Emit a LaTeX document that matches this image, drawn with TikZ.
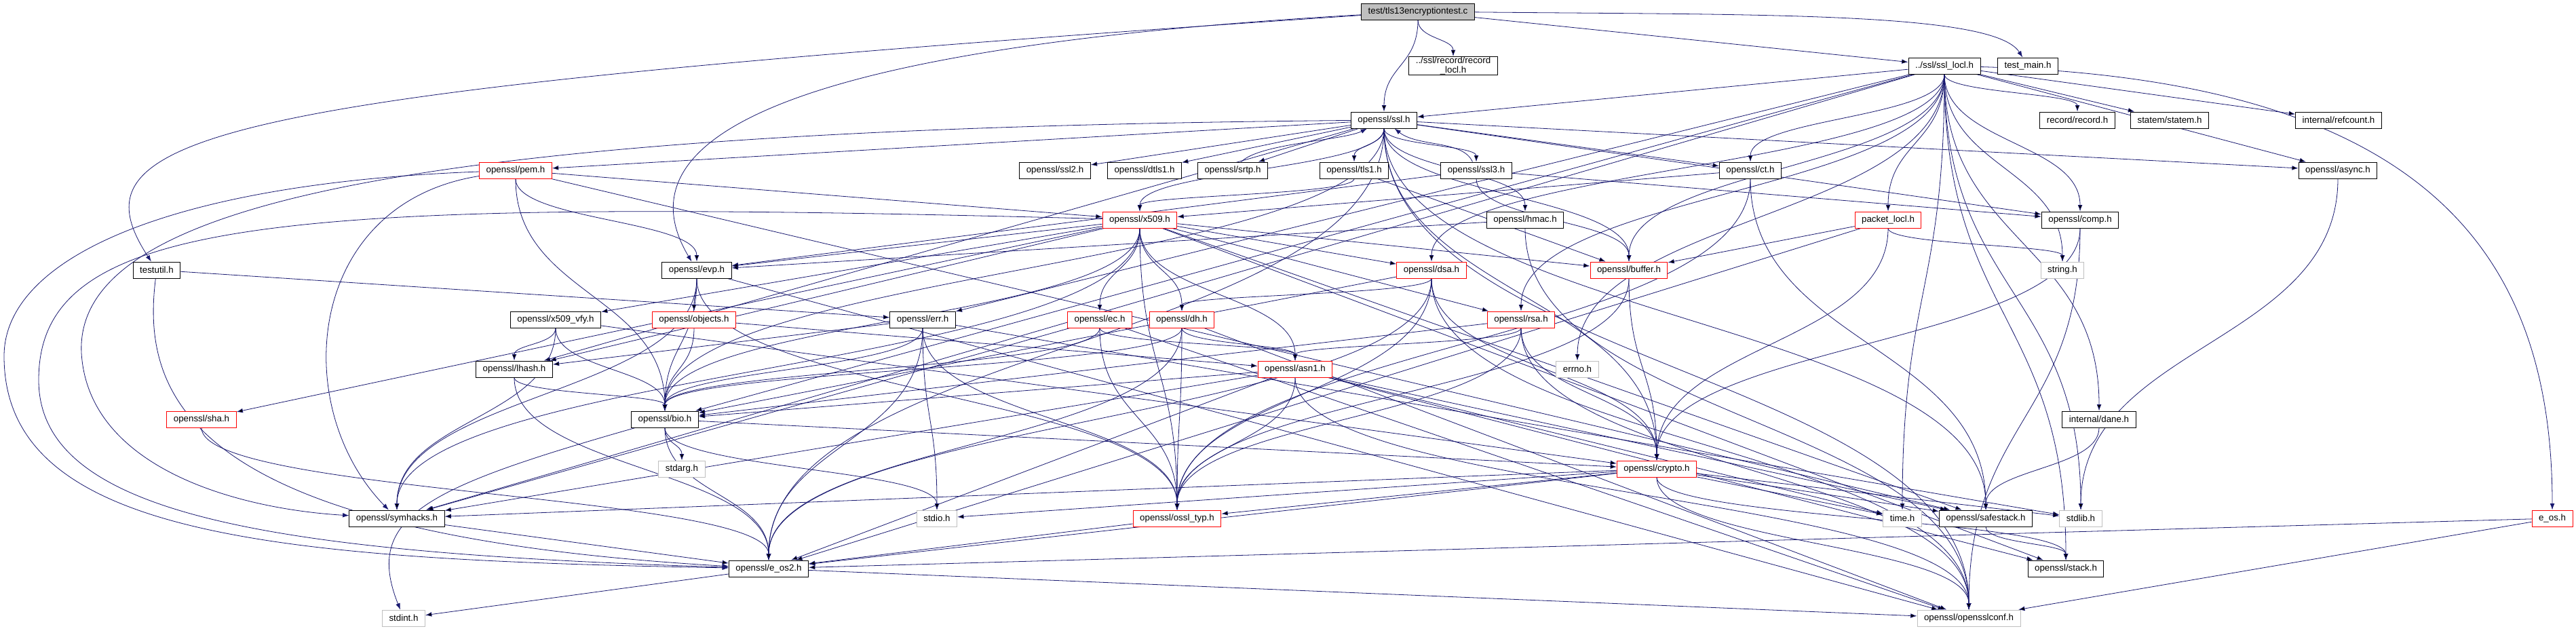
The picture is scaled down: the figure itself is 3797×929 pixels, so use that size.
\documentclass[tikz,border=0pt]{standalone}
\usepackage{fontspec}
\setmainfont{Liberation Sans}
\usetikzlibrary{arrows.meta, backgrounds, calc}

\definecolor{edgeblue}{HTML}{191970}
\definecolor{sysgray}{HTML}{BFBFBF}

\begin{document}
\begin{tikzpicture}[x=0.75pt, y=0.75pt,
  header/.style={rectangle, draw=black, fill=white, line width=0.75pt, minimum height=18pt, inner xsep=7.5pt, inner ysep=0pt, align=center, font=\fontsize{10}{11}\selectfont},
  partial/.style={header, draw=red},
  syshdr/.style={header, draw=sysgray},
  mainfile/.style={header, fill=sysgray},
  line/.style={draw=edgeblue, -{Latex[length=7pt,width=5pt]}, line width=0.6pt,
    to path={.. controls ($(\tikztostart)!0.5!(\tikztostart |- \tikztotarget)$)
      and ($(\tikztotarget)!0.5!(\tikztotarget |- \tikztostart)$) .. (\tikztotarget) \tikztonodes}},
  flat/.style={to path={-- (\tikztotarget) \tikztonodes}}]

  \useasboundingbox (0,0) rectangle (3797,-929);

  % top rows
  \node [mainfile] (test) at (2090,-17) {test/tls13encryptiontest.c};
  \node [header] (recloc) at (2142,-97) {../ssl/record/record\\\_locl.h};
  \node [header] (ssllocl) at (2866,-97) {../ssl/ssl\_locl.h};
  \node [header] (testmain) at (2989,-97) {test\_main.h};
  \node [header] (ssl) at (2040,-177) {openssl/ssl.h};
  \node [header] (record) at (3062,-177) {record/record.h};
  \node [header] (statem) at (3198,-177) {statem/statem.h};
  \node [header] (refcount) at (3447,-177) {internal/refcount.h};

  \node [partial] (pem) at (760,-251) {openssl/pem.h};
  \node [header] (ssl2) at (1555,-251) {openssl/ssl2.h};
  \node [header] (dtls1) at (1687,-251) {openssl/dtls1.h};
  \node [header] (srtp) at (1817,-251) {openssl/srtp.h};
  \node [header] (tls1) at (1996,-251) {openssl/tls1.h};
  \node [header] (ssl3) at (2176,-251) {openssl/ssl3.h};
  \node [header] (ct) at (2580,-251) {openssl/ct.h};
  \node [header] (async) at (3446,-251) {openssl/async.h};

  \node [partial] (x509) at (1680,-324) {openssl/x509.h};
  \node [header] (hmac) at (2248,-324) {openssl/hmac.h};
  \node [partial] (packet) at (2783,-324) {packet\_locl.h};
  \node [header] (comp) at (3066,-324) {openssl/comp.h};

  \node [header] (testutil) at (231,-398) {testutil.h};
  \node [header] (evp) at (1027,-398) {openssl/evp.h};
  \node [partial] (dsa) at (2110,-398) {openssl/dsa.h};
  \node [partial] (buffer) at (2401,-398) {openssl/buffer.h};
  \node [syshdr] (string) at (3040,-398) {string.h};

  % middle rows
  \node [header] (x509vfy) at (819,-471) {openssl/x509\_vfy.h};
  \node [partial] (objects) at (1023,-471) {openssl/objects.h};
  \node [header] (err) at (1360,-471) {openssl/err.h};
  \node [partial] (ec) at (1621,-471) {openssl/ec.h};
  \node [partial] (dh) at (1742,-471) {openssl/dh.h};
  \node [partial] (rsa) at (2242,-471) {openssl/rsa.h};

  \node [header] (lhash) at (758,-544) {openssl/lhash.h};
  \node [partial] (asn1) at (1909,-544) {openssl/asn1.h};
  \node [syshdr] (errno) at (2325,-544) {errno.h};

  \node [partial] (sha) at (297,-618) {openssl/sha.h};
  \node [header] (bio) at (980,-618) {openssl/bio.h};
  \node [header] (dane) at (3094,-618) {internal/dane.h};

  \node [syshdr] (stdarg) at (1005,-691) {stdarg.h};
  \node [partial] (crypto) at (2442,-691) {openssl/crypto.h};

  % bottom rows
  \node [header] (symhacks) at (585,-764) {openssl/symhacks.h};
  \node [syshdr] (stdio) at (1381,-764) {stdio.h};
  \node [partial] (ossltyp) at (1735,-764) {openssl/ossl\_typ.h};
  \node [syshdr] (time) at (2804,-764) {time.h};
  \node [header] (safestack) at (2927,-764) {openssl/safestack.h};
  \node [syshdr] (stdlib) at (3067,-764) {stdlib.h};
  \node [partial] (eos) at (3762,-764) {e\_os.h};

  \node [header] (eos2) at (1133,-838) {openssl/e\_os2.h};
  \node [header] (stack) at (3045,-838) {openssl/stack.h};

  \node [syshdr] (stdint) at (595,-911) {stdint.h};
  \node [syshdr] (conf) at (2902,-911) {openssl/opensslconf.h};

  \begin{scope}[on background layer]
  \path [line] (test) edge (ssl) edge[flat] (ssllocl) edge (recloc);
  \draw [line] (test) .. controls +(-700,-40) and +(-150,250) .. (evp);
  \draw [line] (test) .. controls +(-1800,-120) and +(-130,200) .. (testutil);
  \draw [line] (test) .. controls +(500,-5) and +(-50,80) .. (testmain);

  \path [line] (ssllocl) edge (stdlib) edge (time) edge (string)
    edge (errno) edge (buffer) edge (comp) edge[flat] (bio) edge (stack) edge (rsa) edge (dsa)
    edge[flat] (err) edge[flat] (ssl) edge[flat] (async) edge[flat] (symhacks) edge (ct)
    edge (record) edge[flat] (statem) edge (packet) edge (dane) edge[flat] (refcount);
  \draw [line] (ssllocl) .. controls +(700,-20) and +(0,400) .. (eos);

  \path [line] (ssl) edge (eos2) edge (conf) edge[flat] (comp) edge (bio) edge (x509) edge (crypto)
    edge[flat] (lhash) edge (buffer) edge[flat] (pem) edge (hmac) edge[flat] (async)
    edge (safestack) edge[flat] (ct) edge[flat] (ssl2) edge (ssl3)
    edge (tls1) edge[flat] (dtls1) edge[flat] (srtp);
  \draw [line] (ssl) .. controls (600,-190) and (110,-300) .. (120,-520)
    .. controls (130,-690) and (350,-750) .. (symhacks);
  \path [line] (ssl3) edge[flat] (comp) edge (buffer) edge[flat] (evp);
  \draw [line] (ssl3) .. controls +(-20,45) and +(50,-40) .. (ssl);
  \draw [line] (srtp) .. controls +(40,40) and +(-60,-30) .. (ssl);
  \path [line] (tls1) edge[flat] (buffer) edge (x509);
  \path [line] (ct) edge (safestack) edge[flat] (x509) edge (ossltyp);
  \path [line] (hmac) edge[flat] (evp) edge (conf);
  \path [line] (comp) edge (crypto) edge (conf);
  \path [line] (async) edge (stdlib);
  \path [line] (packet) edge (string) edge[flat] (buffer) edge (crypto) edge[flat] (eos2);
  \path [line] (testutil) edge[flat] (err);
  \draw [line] (testutil) .. controls (205,-600) and (300,-790) .. (eos2);

  \path [line] (pem) edge (bio) edge[flat] (safestack) edge (evp) edge[flat] (x509);
  \draw [line] (pem) .. controls (250,-270) and (6,-380) .. (6,-525)
    .. controls (6,-790) and (400,-825) .. (eos2);
  \draw [line] (pem) .. controls (450,-300) and (425,-600) .. (symhacks);
  \path [line] (x509) edge (ossltyp) edge (symhacks) edge[flat] (buffer)
    edge[flat] (evp) edge (bio) edge[flat] (stack) edge (asn1) edge[flat] (safestack) edge (ec)
    edge[flat] (rsa) edge[flat] (dsa) edge (dh) edge[flat] (sha) edge[flat] (x509vfy)
    edge[flat] (lhash);
  \draw [line] (x509) .. controls (400,-290) and (57,-320) .. (57,-560)
    .. controls (57,-760) and (400,-815) .. (eos2);
  \path [line] (x509vfy) edge (lhash) edge (bio) edge[flat] (crypto) edge (symhacks);
  \path [line] (evp) edge[flat] (conf) edge (ossltyp) edge (symhacks) edge (bio) edge (objects);
  \path [line] (objects) edge (bio) edge[flat] (asn1);
  \path [line] (err) edge (eos2) edge (stdio) edge[flat] (stdlib) edge (ossltyp) edge (bio)
    edge[flat] (lhash);
  \path [line] (ec) edge (asn1) edge[flat] (symhacks) edge (ossltyp) edge[flat] (conf) edge (bio);
  \path [line] (dh) edge (eos2) edge (bio) edge (asn1) edge (ossltyp) edge[flat] (conf);
  \path [line] (dsa) edge (eos2) edge[flat] (bio) edge (crypto) edge (ossltyp) edge (dh) edge (conf);
  \path [line] (rsa) edge (asn1) edge[flat] (bio) edge (crypto) edge (ossltyp) edge (conf);
  \path [line] (buffer) edge (ossltyp) edge (crypto);

  \path [line] (asn1) edge[flat] (time) edge[flat] (eos2) edge (conf) edge[flat] (bio)
    edge[flat] (stack) edge[flat] (safestack) edge[flat] (symhacks) edge (ossltyp);
  \path [line] (lhash) edge (eos2) edge (bio);
  \path [line] (sha) edge (eos2);
  \path [line] (bio) edge (eos2) edge (stdio) edge (stdarg) edge[flat] (crypto);
  \draw [line] (bio) .. controls +(-350,-100) and +(-60,150) .. (stdint);
  \path [line] (dane) edge (safestack);
  \path [line] (crypto) edge[flat] (stdlib) edge[flat] (time) edge[flat] (eos2)
    edge[flat] (safestack) edge (stack) edge (conf) edge[flat] (ossltyp) edge[flat] (symhacks)
    edge[flat] (stdio);

  \path [line] (ossltyp) edge[flat] (eos2);
  \path [line] (symhacks) edge[flat] (eos2);
  \path [line] (safestack) edge (stack);
  \path [line] (eos) edge[flat] (eos2) edge[flat] (conf);
  \path [line] (eos2) edge[flat] (stdint) edge[flat] (conf);
  \end{scope}
\end{tikzpicture}
\end{document}
